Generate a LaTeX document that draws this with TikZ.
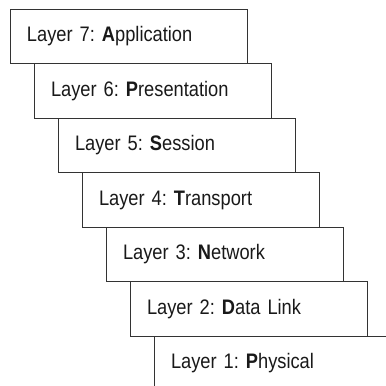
\documentclass[tikz,border=0pt]{standalone}
\usepackage{fontspec}
\setmainfont{Liberation Sans}[FakeStretch=0.87]
\frenchspacing
\usetikzlibrary{positioning}

\begin{document}
\begin{tikzpicture}[x=1pt,y=1pt,
        layerbox/.style={draw=black!80, line width=0.8pt, outer sep=0pt,
            inner xsep=17pt, inner ysep=0pt, minimum height=54.5pt,
            text width=203pt, align=left, anchor=north west,
            font=\fontsize{21}{25}\selectfont, text=black!90}]
            \useasboundingbox (0,0) rectangle (386,-386);
            \clip (0,0) rectangle (386,-386);
            % the stack, each layer one step down and to the right
            \node[layerbox] (l7) at (10,-9.3) {Layer 7: \textbf{A}pplication};
            \node[layerbox, below right=0pt and 24pt of l7.south west] (l6) {Layer 6: \textbf{P}resentation};
            \node[layerbox, below right=0pt and 24pt of l6.south west] (l5) {Layer 5: \textbf{S}ession};
            \node[layerbox, below right=0pt and 24pt of l5.south west] (l4) {Layer 4: \textbf{T}ransport};
            \node[layerbox, below right=0pt and 24pt of l4.south west] (l3) {Layer 3: \textbf{N}etwork};
            \node[layerbox, below right=0pt and 24pt of l3.south west] (l2) {Layer 2: \textbf{D}ata Link};
            \node[layerbox, below right=0pt and 24pt of l2.south west] (l1) {Layer 1: \textbf{P}hysical};
        \end{tikzpicture}
\end{document}
